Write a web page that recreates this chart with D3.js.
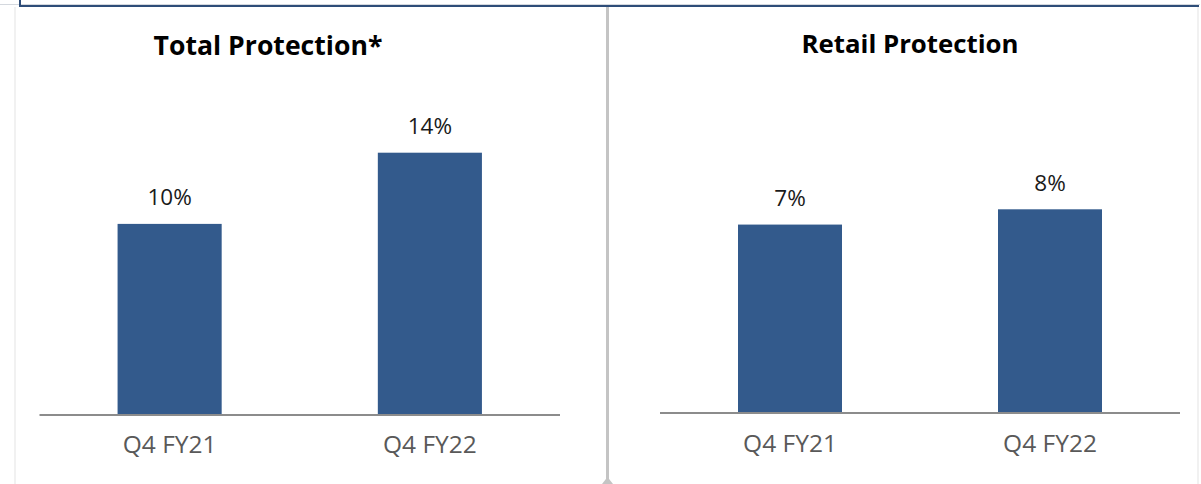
<!DOCTYPE html>
<html>
<head>
<meta charset="utf-8">
<script src="https://cdn.jsdelivr.net/npm/d3@7"></script>
<style>
  html, body { margin: 0; padding: 0; background: #ffffff; }
  svg { display: block; }
</style>
</head>
<body>
<script>
// ---- data ----
const categories = ["Q4 FY21", "Q4 FY22"];
const totalValues = [10.2, 14.0];
const retailValues = [7.4, 8.0];
const panelTitles = ["Total Protection*", "Retail Protection"];

const W = 1201, H = 484;
const svg = d3.select("body").append("svg").attr("width", W).attr("height", H);

const barColor = "#335a8c";
const font = "'Open Sans', 'Noto Sans', sans-serif";

// frame decorations
svg.append("rect").attr("x", 14).attr("y", 7).attr("width", 2).attr("height", H - 7).attr("fill", "#f1f1f1");
svg.append("rect").attr("x", 1197).attr("y", 7).attr("width", 2).attr("height", H - 7).attr("fill", "#f1f1f1");
svg.append("rect").attr("x", 0).attr("y", 4).attr("width", 1200).attr("height", 1).attr("fill", "#d4d8de");
svg.append("rect").attr("x", 19).attr("y", 5).attr("width", 1180).attr("height", 2).attr("fill", "#2e4d78");
svg.append("rect").attr("x", 19).attr("y", 0).attr("width", 2).attr("height", 5).attr("fill", "#2e4d78");
// divider
svg.append("rect").attr("x", 606).attr("y", 7).attr("width", 3).attr("height", H - 7).attr("fill", "#c4c4c4");
svg.append("path").attr("d", "M602,484 L607.5,477 L613,484 Z").attr("fill", "#c4c4c4");

const panels = [
  { title: panelTitles[0], values: totalValues, x0: 39.5, x1: 560, base: 415, top: 152.7, yMax: 14,
    titleX: 268, titleY: 55, titleSize: 26.6, catY: 453 },
  { title: panelTitles[1], values: retailValues, x0: 660, x1: 1180, base: 413, top: 209.3, yMax: 8,
    titleX: 910, titleY: 52.5, titleSize: 25.8, catY: 452 }
];

panels.forEach(p => {
  const g = svg.append("g");
  const x = d3.scaleBand().domain(categories).range([p.x0, p.x1]).paddingInner(0.6).paddingOuter(0.3);
  const y = d3.scaleLinear().domain([0, p.yMax]).range([p.base, p.top]);

  g.append("text")
    .attr("x", p.titleX).attr("y", p.titleY)
    .attr("text-anchor", "middle")
    .style("font-family", font).style("font-weight", "700")
    .style("font-size", p.titleSize + "px").attr("fill", "#000")
    .text(p.title);

  g.selectAll("rect.bar").data(p.values).join("rect")
    .attr("class", "bar")
    .attr("x", (d, i) => x(categories[i]))
    .attr("width", x.bandwidth())
    .attr("y", d => y(d))
    .attr("height", d => y(0) - y(d))
    .attr("fill", barColor);

  g.selectAll("text.val").data(p.values).join("text")
    .attr("class", "val")
    .attr("x", (d, i) => x(categories[i]) + x.bandwidth() / 2)
    .attr("y", d => y(d) - 18.5)
    .attr("text-anchor", "middle")
    .style("font-family", font).style("font-size", "22.5px")
    .attr("fill", "#1a1a1a")
    .text(d => d3.format(".0f")(d) + "%");

  // axis
  const axis = d3.axisBottom(x).tickSize(0).tickPadding(0);
  const ax = g.append("g").attr("transform", `translate(0,${p.base})`).call(axis);
  ax.select(".domain").attr("stroke", "#8c8c8c").attr("stroke-width", 2)
    .attr("d", `M${p.x0},0H${p.x1}`);
  ax.selectAll(".tick text")
    .attr("y", p.catY - p.base).attr("dy", 0)
    .style("font-family", font).style("font-size", "24.5px")
    .attr("fill", "#595959");
});
</script>
</body>
</html>
